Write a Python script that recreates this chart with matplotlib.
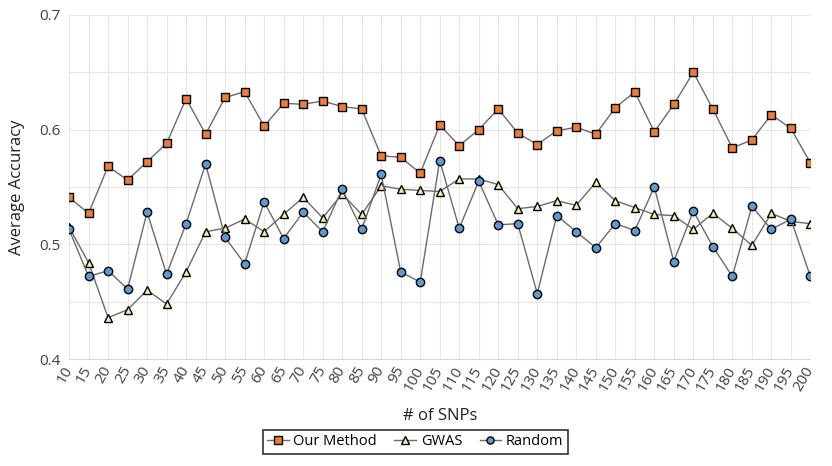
import numpy as np
import matplotlib.pyplot as plt

plt.rcParams['font.family'] = ['Open Sans', 'DejaVu Sans']

snps = list(range(10, 205, 5))

our_method = [0.541, 0.527, 0.568, 0.556, 0.572, 0.588, 0.627, 0.596, 0.628, 0.633,
              0.603, 0.623, 0.622, 0.625, 0.620, 0.618, 0.577, 0.576, 0.562, 0.604,
              0.586, 0.600, 0.618, 0.597, 0.587, 0.599, 0.602, 0.596, 0.619, 0.633,
              0.598, 0.622, 0.650, 0.618, 0.584, 0.591, 0.613, 0.601, 0.571]

gwas = [0.515, 0.484, 0.436, 0.443, 0.460, 0.448, 0.476, 0.511, 0.514, 0.522,
        0.511, 0.526, 0.541, 0.523, 0.544, 0.526, 0.551, 0.548, 0.547, 0.546,
        0.557, 0.557, 0.552, 0.531, 0.533, 0.538, 0.534, 0.554, 0.538, 0.532,
        0.526, 0.525, 0.513, 0.527, 0.514, 0.499, 0.527, 0.520, 0.518]

random_sel = [0.513, 0.472, 0.477, 0.461, 0.528, 0.474, 0.518, 0.570, 0.506, 0.483,
              0.537, 0.505, 0.528, 0.511, 0.548, 0.513, 0.561, 0.476, 0.467, 0.573,
              0.514, 0.555, 0.517, 0.518, 0.457, 0.525, 0.511, 0.497, 0.518, 0.512,
              0.550, 0.485, 0.529, 0.498, 0.472, 0.533, 0.513, 0.522, 0.472]

fig = plt.figure(figsize=(8.32, 4.66), dpi=100)
ax = fig.add_axes([0.083, 0.2296, 0.891, 0.7384])

line_kw = dict(color='#6b6b6b', linewidth=1.0, markeredgecolor='black',
               markeredgewidth=1.0, markersize=6)
ax.plot(snps, our_method, marker='s', markerfacecolor='#ED7D31', label='Our Method', **line_kw)
ax.plot(snps, gwas, marker='^', markerfacecolor='#EEF2A8', label='GWAS', **line_kw)
ax.plot(snps, random_sel, marker='o', markerfacecolor='#5B9BD5', label='Random', **line_kw)

ax.set_xlim(10, 200)
ax.set_ylim(0.4, 0.7)
ax.set_xticks(snps)
ax.set_xticklabels([str(s) for s in snps], rotation=60, ha='right', va='center',
                   rotation_mode='anchor', fontsize=11, color='#404040')
ax.set_yticks([0.4, 0.5, 0.6, 0.7])
ax.set_yticklabels(['0.4', '0.5', '0.6', '0.7'], fontsize=11, color='#404040')
ax.set_yticks(np.arange(0.4, 0.71, 0.05), minor=True)
ax.tick_params(axis='both', length=0, pad=6)
ax.tick_params(axis='y', which='minor', length=0)
ax.grid(True, which='both', color='#e6e6e6', linewidth=0.8)
ax.set_axisbelow(True)
for s in ['top', 'right', 'left']:
    ax.spines[s].set_visible(False)
ax.spines['bottom'].set_color('#d9d9d9')

ax.set_ylabel('Average Accuracy', fontsize=12, color='#202020', labelpad=10)
ax.set_xlabel('# of SNPs', fontsize=12, color='#202020', labelpad=10)

leg = fig.legend(*ax.get_legend_handles_labels(), loc='center',
                 bbox_to_anchor=(0.499, 0.052), ncol=3,
                 frameon=True, fancybox=False, edgecolor='black', fontsize=10.5,
                 handlelength=1.5, columnspacing=1.2, borderpad=0.3,
                 handletextpad=0.3, markerscale=0.85)
leg.get_frame().set_linewidth(1.2)

plt.savefig('out.png', dpi=100)
